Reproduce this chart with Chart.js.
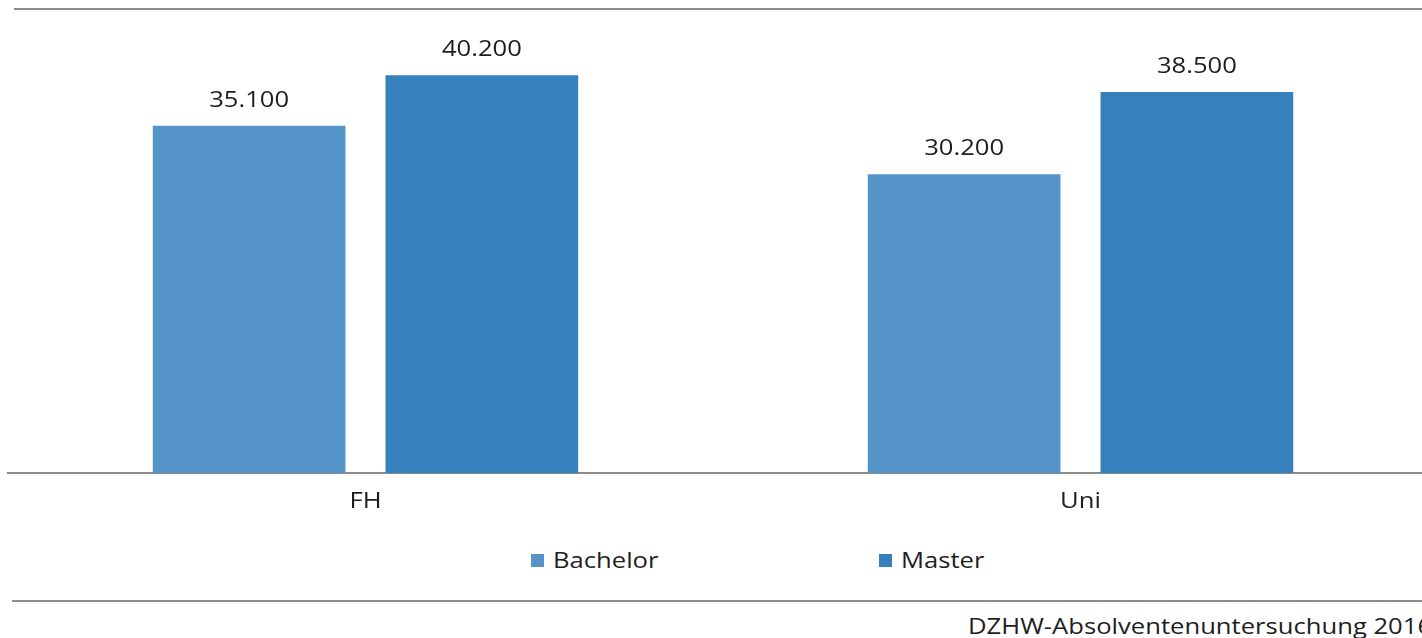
<!DOCTYPE html>
<html lang="de">
<head>
    <meta charset="UTF-8">
    <title>Bachelor / Master – FH und Uni</title>
    <script src="https://cdn.jsdelivr.net/npm/chart.js"></script>
    <style>
        html, body {
            margin: 0;
            padding: 0;
            background: #fff;
            overflow: hidden;
            width: 1422px;
            height: 638px;
            font-family: "Open Sans", "Noto Sans", sans-serif;
            color: #1e1e1e;
        }
        .wrap { position: relative; width: 1422px; height: 638px; }
        .rule { position: absolute; height: 2px; background: #8c8c8c; }
        #chartBox { position: absolute; left: 0; top: 0; width: 1440px; height: 540px; }
        .legend { position: absolute; top: 546px; font-size: 21px; display: flex; align-items: center; }
        .legend i { display: inline-block; width: 13px; height: 13px; margin-right: 9px; }
        /* source text looks horizontally stretched */
        .wide { display: inline-block; transform: scaleX(1.22); transform-origin: left center; white-space: nowrap; }
        .source { position: absolute; left: 968px; top: 612px; font-size: 21px; }
    </style>
</head>
<body>
<div class="wrap">
    <div class="rule" style="left:14px; right:0; top:8px;"></div>
    <div id="chartBox"><canvas id="chart" width="1440" height="540"></canvas></div>
    <div class="legend" style="left:531px;"><i style="background:#5494c9"></i><span class="wide">Bachelor</span></div>
    <div class="legend" style="left:879px;"><i style="background:#3580bd"></i><span class="wide">Master</span></div>
    <div class="rule" style="left:12px; right:0; top:600px;"></div>
    <div class="source"><span class="wide">DZHW-Absolventenuntersuchung 2016</span></div>
</div>

<script>
    const categories = ['FH', 'Uni'];
    const bachelor = [35100, 30200];
    const master = [40200, 38500];
    const seriesNames = ['Bachelor', 'Master'];

    const FONT = '21px "Open Sans", "Noto Sans", sans-serif';
    const STRETCH = 1.22;

    // 35100 -> "35.100"
    function fmt(v) {
        return String(v).replace(/\B(?=(\d{3})+(?!\d))/g, '.');
    }

    function wideText(ctx, txt, x, y) {
        ctx.save();
        ctx.translate(x, y);
        ctx.scale(STRETCH, 1);
        ctx.fillText(txt, 0, 0);
        ctx.restore();
    }

    const textLayer = {
        id: 'textLayer',
        afterDraw(chart) {
            const ctx = chart.ctx;
            const xs = chart.scales.x;
            ctx.save();
            ctx.font = FONT;
            ctx.fillStyle = '#1e1e1e';
            ctx.textAlign = 'center';
            ctx.textBaseline = 'middle';
            // value labels above the bars
            chart.data.datasets.forEach((ds, i) => {
                chart.getDatasetMeta(i).data.forEach((bar, j) => {
                    wideText(ctx, fmt(ds.data[j]), bar.x, bar.y - 25);
                });
            });
            // category labels under the axis
            chart.data.labels.forEach((lbl, i) => {
                wideText(ctx, lbl, xs.getPixelForValue(i), chart.chartArea.bottom + 29);
            });
            ctx.restore();
        }
    };

    new Chart(document.getElementById('chart'), {
        type: 'bar',
        data: {
            labels: categories,
            datasets: [{
                label: seriesNames[0],
                data: bachelor,
                backgroundColor: '#5494c9',
                categoryPercentage: 0.651,
                barPercentage: 0.828
            }, {
                label: seriesNames[1],
                data: master,
                backgroundColor: '#3580bd',
                categoryPercentage: 0.651,
                barPercentage: 0.828
            }]
        },
        options: {
            responsive: false,
            animation: false,
            layout: { padding: { left: 8, right: 2, top: 8, bottom: 67 } },
            scales: {
                x: {
                    grid: { display: false, drawTicks: false },
                    border: { display: true, color: '#8c8c8c', width: 2 },
                    ticks: { display: false }
                },
                y: {
                    display: false,
                    min: 0,
                    max: 47000
                }
            },
            plugins: {
                legend: { display: false },
                tooltip: { enabled: false }
            }
        },
        plugins: [textLayer]
    });
</script>
</body>
</html>
